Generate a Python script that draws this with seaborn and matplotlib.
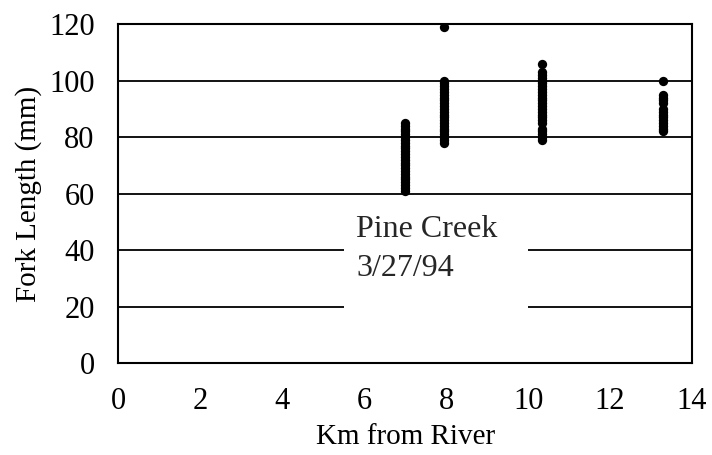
import pandas as pd
import numpy as np
import matplotlib
matplotlib.use('Agg')
import matplotlib.pyplot as plt
import seaborn as sns
from matplotlib.ticker import MultipleLocator
from matplotlib.patches import Rectangle

# fork lengths (mm), grouped by site (km from river)
km_site1 = 7.0
fl_site1 = [61, 62, 63, 64, 65, 66, 67, 68, 69, 70, 71, 72, 73, 74, 75, 76, 77, 78, 79, 80, 81, 82, 83, 84, 85]
km_site2 = 7.95
fl_site2 = [78, 79, 80, 81, 82, 83, 84, 85, 86, 87, 88, 89, 90, 91, 92, 93, 94, 95, 96, 97, 98, 99, 100, 119]
km_site3 = 10.35
fl_site3 = [79, 80, 81, 82, 83, 85, 86, 87, 88, 89, 90, 91, 92, 93, 94, 95, 96, 97, 98, 99, 100, 101, 102, 103, 106]
km_site4 = 13.3
fl_site4 = [82, 83, 84, 85, 86, 87, 88, 89, 90, 92, 93, 94, 95, 100]

x_ticks = [0, 2, 4, 6, 8, 10, 12, 14]
y_ticks = [0, 20, 40, 60, 80, 100, 120]

fish = pd.concat([
    pd.DataFrame({'km': km_site1, 'fl': fl_site1}),
    pd.DataFrame({'km': km_site2, 'fl': fl_site2}),
    pd.DataFrame({'km': km_site3, 'fl': fl_site3}),
    pd.DataFrame({'km': km_site4, 'fl': fl_site4}),
], ignore_index=True)

plt.close('all')
sns.set_style("white")
plt.rcParams['font.family'] = ['Liberation Serif', 'DejaVu Serif']
fig = plt.figure(figsize=(7.12, 4.55), dpi=100)
ax = fig.add_axes([0.166, 0.202, 0.806, 0.745])

for y in y_ticks[1:]:
    ax.axhline(y, color='black', lw=1.3, zorder=1)

sns.scatterplot(x='km', y='fl', data=fish, color='black', s=45,
                edgecolor='black', linewidth=0, ax=ax, zorder=3)

# white patch behind the site label, breaking the grid lines
ax.add_patch(Rectangle((5.5, 15), 4.5, 38, facecolor='white', edgecolor='none', zorder=2))
ax.text(5.8, 40.5, "Pine Creek\n3/27/94", fontsize=23, ha='left', va='center',
        linespacing=1.45, zorder=4)

ax.set_xlim(0, 14)
ax.set_ylim(0, 120)
ax.set_xticks(x_ticks)
ax.set_yticks(y_ticks)
ax.xaxis.set_minor_locator(MultipleLocator(0.5))
ax.yaxis.set_minor_locator(MultipleLocator(10))
ax.tick_params(axis='both', which='major', direction='out', length=12, width=1.3,
               color='black', labelsize=22, labelcolor='black')
ax.tick_params(axis='x', which='minor', direction='in', length=4, width=1, color='black')
ax.tick_params(axis='y', which='minor', direction='in', length=4, width=1, color='black')
ax.tick_params(axis='x', pad=5)
ax.tick_params(axis='y', pad=5)

for side in ['left', 'bottom', 'right', 'top']:
    ax.spines[side].set_color('black')
    ax.spines[side].set_linewidth(1.5)

ax.set_xlabel("Km from River", fontsize=21, color='black', labelpad=6)
ax.set_ylabel("Fork Length (mm)", fontsize=21, color='black', labelpad=5)

plt.savefig('out.png', dpi=100)
plt.close()
